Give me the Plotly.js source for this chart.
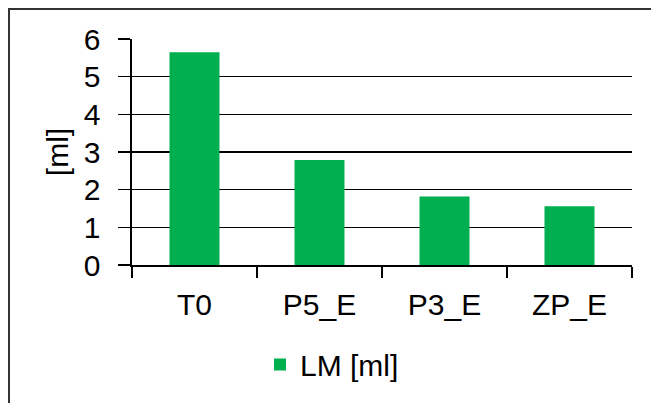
<!DOCTYPE html>
<html>
<head>
<meta charset="utf-8">
<script src="https://cdn.plot.ly/plotly-3.0.1.min.js"></script>
<style>
html,body{margin:0;padding:0;background:#fff;}
#chart{width:651px;height:403px;}
</style>
</head>
<body>
<div id="chart"></div>
<script>
var categories = ["T0", "P5_E", "P3_E", "ZP_E"];
var lmValues = [5.65, 2.79, 1.82, 1.56];
var seriesName = "LM [ml]";
var yTickVals = [0, 1, 2, 3, 4, 5, 6];
var yTitle = "[ml]";

var data = [{
  type: "bar",
  x: categories,
  y: lmValues,
  name: seriesName,
  marker: {color: "#00B050"},
  showlegend: true
}];

var layout = {
  width: 651,
  height: 403,
  margin: {l: 132, r: 19, t: 39, b: 138, pad: 0},
  paper_bgcolor: "#ffffff",
  plot_bgcolor: "#ffffff",
  font: {family: "Liberation Sans, Arial, sans-serif", color: "#000", size: 30},
  bargap: 0.6,
  showlegend: true,
  legend: {
    orientation: "h",
    x: 0.40, xanchor: "center",
    y: -0.44, yanchor: "middle",
    font: {size: 30, color: "#000"},
    itemwidth: 30
  },
  xaxis: {
    type: "category",
    tickson: "boundaries",
    ticks: "outside",
    ticklen: 11,
    tickwidth: 1.6,
    tickcolor: "#000",
    showline: true,
    linecolor: "#000",
    linewidth: 1.6,
    showgrid: false,
    zeroline: false,
    ticklabelstandoff: 12,
    tickfont: {size: 30, color: "#000"}
  },
  yaxis: {
    range: [0, 6],
    tickvals: yTickVals,
    ticks: "outside",
    ticklen: 12,
    tickwidth: 1.6,
    tickcolor: "#000",
    showline: true,
    linecolor: "#000",
    linewidth: 1.6,
    showgrid: true,
    gridcolor: "#000",
    gridwidth: 1.6,
    zeroline: false,
    ticklabelstandoff: 12,
    tickfont: {size: 30, color: "#000"},
    title: {text: yTitle, font: {size: 30, color: "#000"}, standoff: 6}
  },
  shapes: [{
    type: "rect",
    xref: "paper", yref: "paper",
    x0: -0.246, x1: 1.06,
    y0: -0.7, y1: 1.133,
    line: {color: "#333", width: 2},
    fillcolor: "rgba(0,0,0,0)",
    layer: "above"
  }]
};

Plotly.newPlot("chart", data, layout, {displayModeBar: false, staticPlot: true});
</script>
</body>
</html>
